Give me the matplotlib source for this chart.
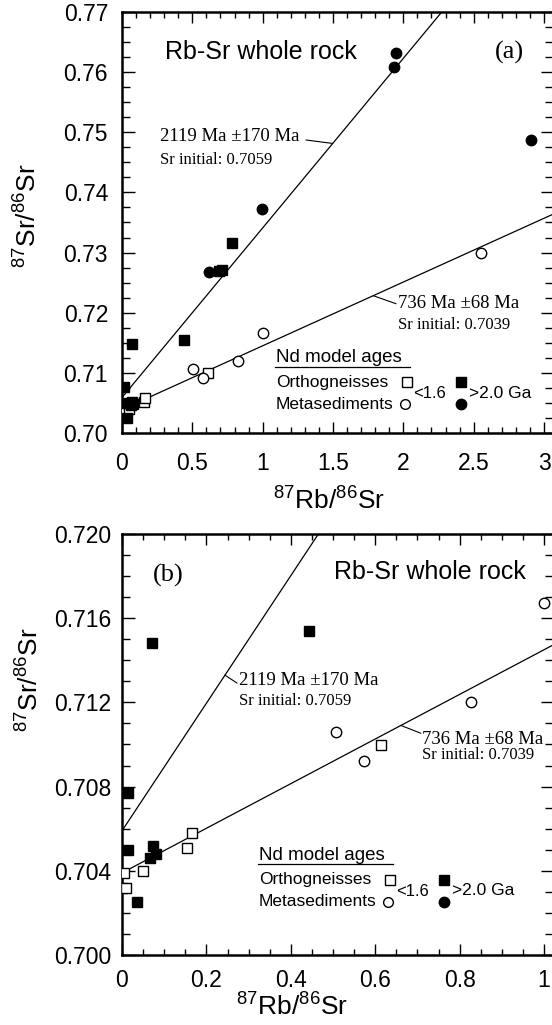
import matplotlib
matplotlib.use("Agg")
import matplotlib.pyplot as plt
from matplotlib.ticker import MultipleLocator, FormatStrFormatter, FuncFormatter

plt.rcParams["font.family"] = ["Liberation Sans", "DejaVu Sans"]
plt.rcParams["mathtext.fontset"] = "custom"
plt.rcParams["mathtext.rm"] = "Liberation Sans"
plt.rcParams["mathtext.it"] = "Liberation Sans:italic"
plt.rcParams["mathtext.bf"] = "Liberation Sans:bold"

SERIF = ["Liberation Serif", "DejaVu Serif"]

# --- whole-rock data (87Rb/86Sr, 87Sr/86Sr) ---
# orthogneisses, Nd model age < 1.6 Ga (open squares)
ortho_young_rb = [0.000, 0.010, 0.005, 0.049, 0.153, 0.167, 0.614]
ortho_young_sr = [0.7032, 0.7032, 0.7039, 0.7040, 0.7051, 0.7058, 0.7100]
# orthogneisses, Nd model age > 2.0 Ga (filled squares)
ortho_old_rb = [0.015, 0.015, 0.036, 0.066, 0.074, 0.081, 0.070, 0.442, 0.690, 0.712, 0.780]
ortho_old_sr = [0.7077, 0.7050, 0.7025, 0.7046, 0.7052, 0.7048, 0.7148, 0.7154, 0.7270, 0.7271, 0.7316]
# metasediments, Nd model age < 1.6 Ga (open circles)
meta_young_rb = [0.508, 0.574, 0.826, 1.000, 2.549]
meta_young_sr = [0.7106, 0.7092, 0.7120, 0.7167, 0.7299]
# metasediments, Nd model age > 2.0 Ga (filled circles)
meta_old_rb = [0.615, 0.997, 1.936, 1.948, 2.905]
meta_old_sr = [0.7267, 0.7372, 0.7609, 0.7632, 0.7488]

# isochrons as drawn in each panel
iso_ages = ["2119 Ma \u00b1170 Ma", "736 Ma \u00b168 Ma"]
iso_initial = [0.7059, 0.7039]
iso_slope_a = [0.0282, 0.0106]
iso_slope_b = [0.0303, 0.0106]


def draw_points(ax):
    ax.plot(ortho_young_rb, ortho_young_sr, "s", ms=7, mfc="white", mec="black", mew=1.0, ls="none", zorder=3)
    ax.plot(ortho_old_rb, ortho_old_sr, "s", ms=7, mfc="black", mec="black", ls="none", zorder=3)
    ax.plot(meta_young_rb, meta_young_sr, "o", ms=7.5, mfc="white", mec="black", mew=1.0, ls="none", zorder=3)
    ax.plot(meta_old_rb, meta_old_sr, "o", ms=7.5, mfc="black", mec="black", ls="none", zorder=3)


def draw_isochrons(ax, slopes, xmax):
    for b, m in zip(iso_initial, slopes):
        ax.plot([0, xmax], [b, b + m * xmax], color="black", lw=0.9, zorder=2)


def iso_label(ax, i, slopes, x_on_line, text_xy, dy_second):
    y_on_line = iso_initial[i] + slopes[i] * x_on_line
    ax.annotate("", xy=(x_on_line, y_on_line), xycoords="data",
                xytext=text_xy[0], textcoords="axes fraction",
                arrowprops=dict(arrowstyle="-", lw=0.8, color="black", shrinkA=0, shrinkB=0))
    tx, ty = text_xy[1]
    ax.text(tx, ty, iso_ages[i], transform=ax.transAxes, family=SERIF, fontsize=13.5,
            ha="left", va="center")
    ax.text(tx, ty - dy_second, f"Sr initial: {iso_initial[i]:.4f}", transform=ax.transAxes,
            family=SERIF, fontsize=12, ha="left", va="center")


def draw_legend(ax, x0, y0):
    t = ax.transAxes
    ax.text(x0, y0, "Nd model ages", transform=t, fontsize=13.5, ha="left", va="center")
    ax.plot([x0 - 0.003, x0 + 0.311], [y0 - 0.0215, y0 - 0.0215], transform=t, color="black", lw=0.9)
    ax.text(x0, y0 - 0.059, "Orthogneisses", transform=t, fontsize=12.5, ha="left", va="center")
    ax.text(x0, y0 - 0.1106, "Metasediments", transform=t, fontsize=12.5, ha="left", va="center")
    ax.plot([x0 + 0.303], [y0 - 0.0585], "s", ms=6.5, mfc="white", mec="black", mew=1.0, transform=t)
    ax.plot([x0 + 0.300], [y0 - 0.111], "o", ms=7, mfc="white", mec="black", mew=1.0, transform=t)
    ax.text(x0 + 0.318, y0 - 0.0855, "<1.6", transform=t, fontsize=12, ha="left", va="center")
    ax.plot([x0 + 0.430], [y0 - 0.059], "s", ms=6.5, mfc="black", mec="black", transform=t)
    ax.plot([x0 + 0.430], [y0 - 0.111], "o", ms=7.5, mfc="black", mec="black", transform=t)
    ax.text(x0 + 0.448, y0 - 0.085, ">2.0 Ga", transform=t, fontsize=12.5, ha="left", va="center")


def style_axes(ax, xmaj, xmin, ymaj, ymin, yfmt, xpad, ypad):
    for s in ax.spines.values():
        s.set_linewidth(1.8)
    ax.xaxis.set_major_locator(MultipleLocator(xmaj))
    ax.xaxis.set_minor_locator(MultipleLocator(xmin))
    ax.yaxis.set_major_locator(MultipleLocator(ymaj))
    ax.yaxis.set_minor_locator(MultipleLocator(ymin))
    ax.xaxis.set_major_formatter(FuncFormatter(lambda v, p: f"{v:g}"))
    ax.yaxis.set_major_formatter(FormatStrFormatter(yfmt))
    ax.tick_params(which="both", direction="in", top=True, right=True, width=1.0, labelsize=16.5)
    ax.tick_params(axis="x", which="major", length=8, pad=xpad)
    ax.tick_params(axis="x", which="minor", length=4)
    ax.tick_params(axis="y", which="major", length=9, pad=ypad)
    ax.tick_params(axis="y", which="minor", length=5.5)


fig = plt.figure(figsize=(5.52, 10.25), dpi=100)
W, H = 552.0, 1025.0
ax_a = fig.add_axes([122 / W, 1 - 433 / H, 431 / W, 421 / H])
ax_b = fig.add_axes([122 / W, 1 - 955 / H, 431 / W, 421 / H])

# ---------- panel (a) ----------
xmax_a = 431 / (422 / 3.0)
draw_isochrons(ax_a, iso_slope_a, xmax_a)
draw_points(ax_a)
ax_a.set_xlim(0, xmax_a)
ax_a.set_ylim(0.70, 0.77)
style_axes(ax_a, 0.5, 0.1, 0.01, 0.0025, "%.2f", 14, 10)
ax_a.text(0.10, 0.905, "Rb-Sr whole rock", transform=ax_a.transAxes, fontsize=18, ha="left", va="center")
ax_a.text(0.898, 0.905, "(a)", transform=ax_a.transAxes, family=SERIF, fontsize=19, ha="center", va="center")
iso_label(ax_a, 0, iso_slope_a, 1.498, [(0.427, 0.696), (0.0887, 0.7038)], 0.0561)
iso_label(ax_a, 1, iso_slope_a, 1.786, [(0.636, 0.307), (0.640, 0.308)], 0.0515)
draw_legend(ax_a, 0.3573, 0.1793)
ax_a.set_xlabel("$^{87}$Rb/$^{86}$Sr", fontsize=19)
ax_a.set_ylabel("$^{87}$Sr/$^{86}$Sr", fontsize=19)
ax_a.xaxis.set_label_coords(0.480, -0.1615)
ax_a.yaxis.set_label_coords(-0.218, 0.5154)

# ---------- panel (b) ----------
xmax_b = 431 / 422.0
draw_isochrons(ax_b, iso_slope_b, xmax_b)
draw_points(ax_b)
ax_b.set_xlim(0, xmax_b)
ax_b.set_ylim(0.700, 0.720)
style_axes(ax_b, 0.2, 0.05, 0.004, 0.001, "%.3f", 10, 7.5)
ax_b.text(0.4919, 0.9086, "Rb-Sr whole rock", transform=ax_b.transAxes, fontsize=18, ha="left", va="center")
ax_b.text(0.0719, 0.9026, "(b)", transform=ax_b.transAxes, family=SERIF, fontsize=19, ha="left", va="center")
iso_label(ax_b, 0, iso_slope_b, 0.244, [(0.2668, 0.646), (0.2724, 0.6532)], 0.0499)
iso_label(ax_b, 1, iso_slope_b, 0.661, [(0.6933, 0.5266), (0.6972, 0.5107)], 0.0345)
draw_legend(ax_b, 0.3179, 0.2375)
ax_b.set_xlabel("$^{87}$Rb/$^{86}$Sr", fontsize=19)
ax_b.set_ylabel("$^{87}$Sr/$^{86}$Sr", fontsize=19)
ax_b.xaxis.set_label_coords(0.3944, -0.1235)
ax_b.yaxis.set_label_coords(-0.2135, 0.653)

for ax in (ax_a, ax_b):
    ax.xaxis.label.set_va("center")
    ax.yaxis.label.set_va("center")
    ticks = ax.yaxis.get_major_ticks()
    lo, hi = ax.get_ylim()
    for tk in ticks:
        if abs(tk.get_loc() - hi) < 1e-9:
            tk.label1.set_va("top")

fig.savefig("out.png", dpi=100)
